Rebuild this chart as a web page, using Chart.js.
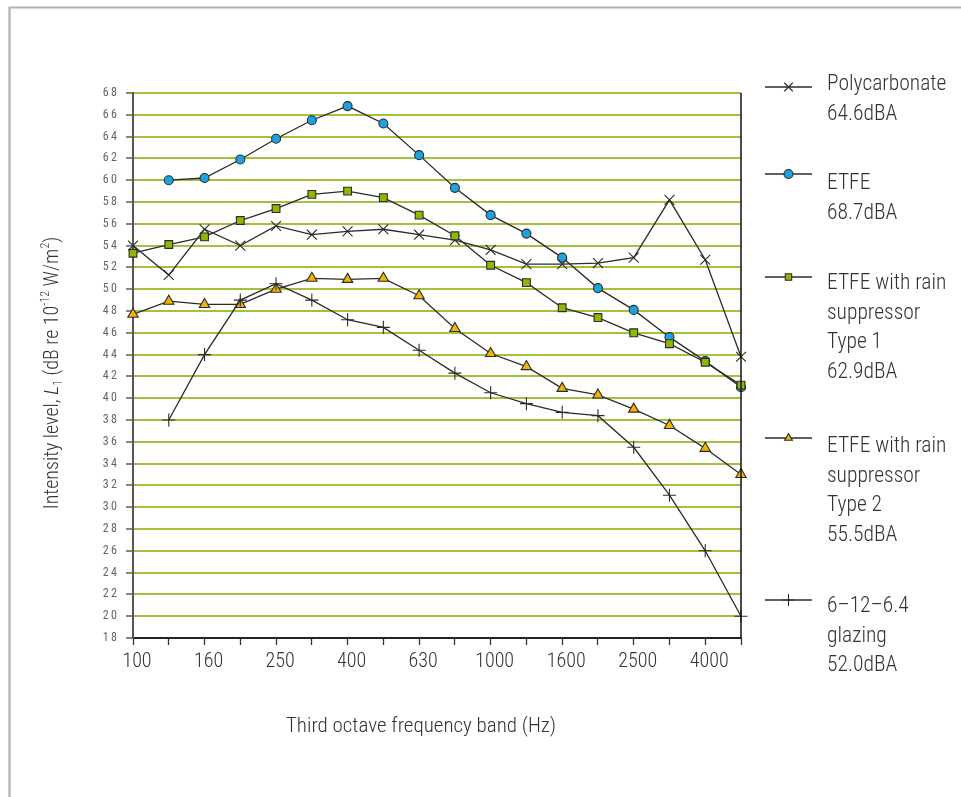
<!DOCTYPE html>
<html>
<head>
<meta charset="utf-8">
<script src="https://cdn.jsdelivr.net/npm/chart.js@4"></script>
<style>
  html, body { margin: 0; padding: 0; background: #fff; }
  #c { display: block; }
</style>
</head>
<body>
<canvas id="c" width="961" height="797"></canvas>
<script>
// ---- data ----
const frequencies = ['100','125','160','200','250','315','400','500','630','800','1000','1250','1600','2000','2500','3150','4000','5000'];
const shownFrequencyLabels = ['100','160','250','400','630','1000','1600','2500','4000'];
const polycarbonate = [54.0, 51.3, 55.5, 54.0, 55.8, 55.0, 55.3, 55.5, 55.0, 54.5, 53.6, 52.3, 52.3, 52.4, 52.9, 58.2, 52.7, 43.8];
const etfe          = [null, 60.0, 60.2, 61.9, 63.8, 65.5, 66.8, 65.2, 62.3, 59.3, 56.8, 55.1, 52.9, 50.1, 48.1, 45.6, 43.4, 41.0];
const etfeType1     = [53.3, 54.1, 54.8, 56.3, 57.4, 58.7, 59.0, 58.4, 56.8, 54.9, 52.2, 50.6, 48.3, 47.4, 46.0, 45.0, 43.3, 41.2];
const etfeType2     = [47.7, 48.9, 48.6, 48.6, 50.0, 51.0, 50.9, 51.0, 49.4, 46.4, 44.1, 42.9, 40.9, 40.3, 39.0, 37.5, 35.4, 33.0];
const glazing       = [null, 38.0, 44.0, 49.0, 50.5, 49.0, 47.2, 46.5, 44.4, 42.3, 40.5, 39.5, 38.7, 38.4, 35.5, 31.1, 26.0, 20.0];
const yMin = 18, yMax = 68, yStep = 2;

const legendPolycarbonate = ['Polycarbonate', '64.6dBA'];
const legendEtfe = ['ETFE', '68.7dBA'];
const legendType1 = ['ETFE with rain', 'suppressor', 'Type 1', '62.9dBA'];
const legendType2 = ['ETFE with rain', 'suppressor', 'Type 2', '55.5dBA'];
const legendGlazing = ['6\u201312\u20136.4', 'glazing', '52.0dBA'];

const xTitle = 'Third octave frequency band (Hz)';

// ---- styling ----
const FONT = '"Roboto Condensed", "Open Sans", sans-serif';
const W = '300 ';
const LINE = '#2b2b2b';
const GRID = '#a2c23c';
const TEXT = '#333';

const datasets = [
  { label: 'Polycarbonate', data: polycarbonate, legendLines: legendPolycarbonate, legendY: 85, legendMarkY: 87,
    pointStyle: 'crossRot', pointRadius: 7, pointBackgroundColor: LINE, order: 3 },
  { label: 'ETFE', data: etfe, legendLines: legendEtfe, legendY: 184, legendMarkY: 174,
    pointStyle: 'circle', pointRadius: 4.5, pointBackgroundColor: '#1ba3df', order: 4 },
  { label: 'ETFE with rain suppressor Type 1', data: etfeType1, legendLines: legendType1, legendY: 284, legendMarkY: 277,
    pointStyle: 'rect', pointRadius: 5.5, pointBackgroundColor: '#8fb800', order: 2 },
  { label: 'ETFE with rain suppressor Type 2', data: etfeType2, legendLines: legendType2, legendY: 447, legendMarkY: 438,
    pointStyle: 'triangle', pointRadius: 6, pointBackgroundColor: '#f2b400', order: 1 },
  { label: '6-12-6.4 glazing', data: glazing, legendLines: legendGlazing, legendY: 607, legendMarkY: 600,
    pointStyle: 'cross', pointRadius: 6.5, pointBackgroundColor: LINE, order: 0 }
].map(d => Object.assign({
  borderColor: LINE, borderWidth: 1.3, pointBorderColor: LINE, pointBorderWidth: 1.1,
  tension: 0, fill: false
}, d, { pointHoverRadius: d.pointRadius }));

const framePlugin = {
  id: 'frame',
  beforeDraw(chart) {
    const ctx = chart.ctx;
    ctx.save();
    ctx.fillStyle = '#fff';
    ctx.fillRect(0, 0, chart.width, chart.height);
    ctx.strokeStyle = '#a9b8a8';
    ctx.lineWidth = 2.2;
    ctx.beginPath();
    ctx.moveTo(9.5, chart.height);
    ctx.lineTo(9.5, 7.5);
    ctx.lineTo(chart.width, 7.5);
    ctx.stroke();
    ctx.restore();
  },
  afterDatasetsDraw(chart) {
    const ctx = chart.ctx, a = chart.chartArea;
    ctx.save();
    ctx.strokeStyle = '#111';
    ctx.lineWidth = 1.5;
    ctx.beginPath();
    ctx.moveTo(a.right, a.top);
    ctx.lineTo(a.right, a.bottom);
    ctx.stroke();
    ctx.restore();
  },
  afterDraw(chart) {
    const ctx = chart.ctx;
    ctx.save();
    // x title
    ctx.fillStyle = TEXT;
    ctx.font = W + '21px ' + FONT;
    ctx.textAlign = 'center';
    ctx.textBaseline = 'middle';
    ctx.fillText(xTitle, 421, 727);

    // y title (rotated, with italic L, subscript and superscripts)
    const segs = [
      { t: 'Intensity level, ', f: W + '20px ' + FONT, dy: 0 },
      { t: 'L', f: 'italic ' + W + '20px ' + FONT, dy: 0 },
      { t: '1', f: W + '12px ' + FONT, dy: 6 },
      { t: ' (dB re 10', f: W + '20px ' + FONT, dy: 0 },
      { t: '-12', f: W + '12px ' + FONT, dy: -7 },
      { t: ' W/m', f: W + '20px ' + FONT, dy: 0 },
      { t: '2', f: W + '12px ' + FONT, dy: -7 },
      { t: ')', f: W + '20px ' + FONT, dy: 0 }
    ];
    let total = 0;
    segs.forEach(s => { ctx.font = s.f; s.w = ctx.measureText(s.t).width; total += s.w; });
    ctx.translate(53, 373);
    ctx.rotate(-Math.PI / 2);
    ctx.textAlign = 'left';
    ctx.textBaseline = 'middle';
    let x = -total / 2;
    segs.forEach(s => { ctx.font = s.f; ctx.fillText(s.t, x, s.dy); x += s.w; });
    ctx.restore();

    // legend
    ctx.save();
    chart.data.datasets.forEach(ds => {
      const my = ds.legendMarkY;
      ctx.strokeStyle = LINE;
      ctx.lineWidth = 1.4;
      ctx.beginPath();
      ctx.moveTo(765, my);
      ctx.lineTo(812, my);
      ctx.stroke();
      ctx.fillStyle = ds.pointBackgroundColor;
      ctx.strokeStyle = LINE;
      ctx.lineWidth = 1.1;
      Chart.helpers.drawPoint(ctx, {
        pointStyle: ds.pointStyle,
        radius: ds.pointStyle === 'crossRot' || ds.pointStyle === 'cross' ? 6 : 4.5,
        borderWidth: 1.1, rotation: 0
      }, 788.5, my);
      ctx.fillStyle = TEXT;
      ctx.font = W + '21.5px ' + FONT;
      ctx.textAlign = 'left';
      ctx.textBaseline = 'middle';
      ds.legendLines.forEach((line, i) => ctx.fillText(line, 827, ds.legendY + i * 29.5));
    });
    ctx.restore();
  }
};

new Chart(document.getElementById('c'), {
  type: 'line',
  data: { labels: frequencies, datasets },
  plugins: [framePlugin],
  options: {
    responsive: false,
    animation: false,
    devicePixelRatio: 1,
    layout: { padding: { left: 0, right: 220, top: 93, bottom: 0 } },
    plugins: { legend: { display: false }, tooltip: { enabled: false }, title: { display: false } },
    scales: {
      x: {
        type: 'category',
        offset: false,
        afterFit(scale) { scale.height = 159; },
        grid: { display: true, drawOnChartArea: false, offset: false, tickLength: 7, tickColor: '#333', tickWidth: 1.3 },
        border: { display: true, color: '#222', width: 2 },
        ticks: {
          autoSkip: false, maxRotation: 0, padding: 5, labelOffset: 4,
          color: TEXT, font: { family: FONT, size: 20, weight: '300' },
          callback(v, i) { const l = frequencies[i]; return shownFrequencyLabels.includes(l) ? l : ''; }
        }
      },
      y: {
        min: yMin, max: yMax,
        afterFit(scale) { scale.width = 133; },
        grid: { color: GRID, lineWidth: 2, tickLength: 7, tickColor: '#444', tickWidth: 1.3, drawTicks: true },
        border: { display: true, color: '#555', width: 2 },
        ticks: {
          stepSize: yStep, padding: 9, color: '#666', font: { family: FONT, size: 12 },
          callback(v) { return String(v).split('').join('\u2009'); }
        }
      }
    }
  }
});
</script>
</body>
</html>
